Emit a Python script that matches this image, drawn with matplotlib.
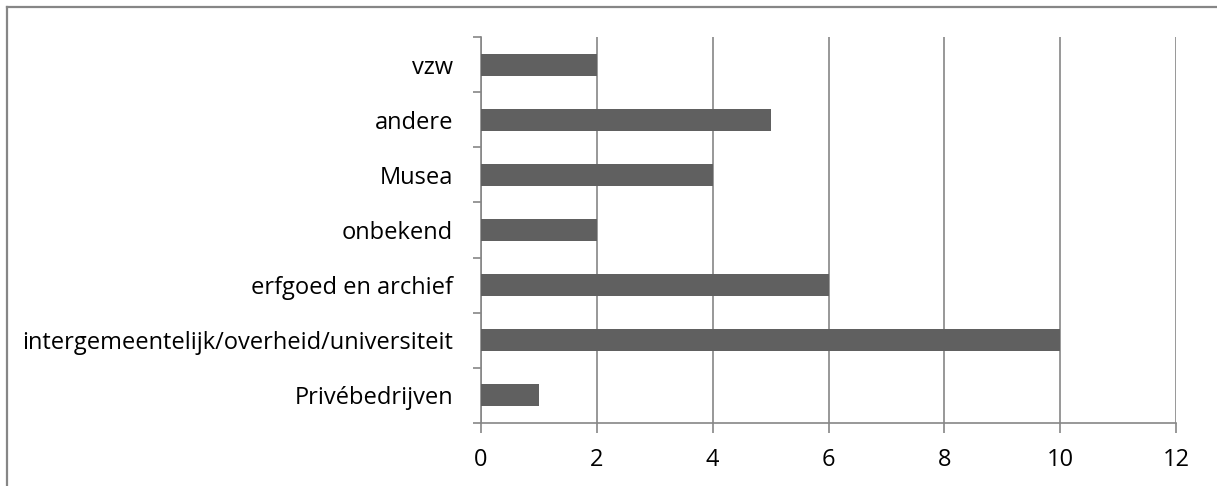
import numpy as np
import matplotlib.pyplot as plt
from matplotlib.lines import Line2D

# Categories listed bottom to top
categories = [
    "Privébedrijven",
    "intergemeentelijk/overheid/universiteit",
    "erfgoed en archief",
    "onbekend",
    "Musea",
    "andere",
    "vzw",
]
counts = [1, 10, 6, 2, 4, 5, 2]
xticks = [0, 2, 4, 6, 8, 10, 12]

plt.rcParams["font.family"] = ["Open Sans", "DejaVu Sans"]
grey = "#868686"

fig = plt.figure(figsize=(12.17, 4.86), dpi=100)
ax = fig.add_axes([481 / 1217, 1 - 423 / 486, (1176 - 481) / 1217, (423 - 37) / 486])

y = np.arange(len(categories))
ax.barh(y, counts, height=0.4, color="#606060", zorder=3)

ax.set_xlim(0, 12)
ax.set_ylim(-0.5, len(categories) - 0.5)
ax.set_xticks(xticks)
ax.set_xticklabels([str(t) for t in xticks], fontsize=17)
ax.set_yticks(y)
ax.set_yticklabels(categories, fontsize=17)
ax.set_yticks(np.arange(-0.5, len(categories)), minor=True)

ax.tick_params(axis="y", which="major", length=0, pad=20)
ax.tick_params(axis="y", which="minor", length=6, color=grey, width=1.2)
ax.tick_params(axis="x", length=7, color=grey, width=1.2, pad=11)

ax.grid(axis="x", color=grey, linewidth=1.2, zorder=0)
for side in ["top", "right"]:
    ax.spines[side].set_visible(False)
for side in ["left", "bottom"]:
    ax.spines[side].set_color(grey)
    ax.spines[side].set_linewidth(1.2)

# outer chart border (only top and left edges are inside the crop)
bx, by = 7 / 1217, 1 - 7.5 / 486
fig.lines.append(Line2D([bx, 1], [by, by], transform=fig.transFigure,
                        color=grey, linewidth=1.6))
fig.lines.append(Line2D([bx, bx], [0, by], transform=fig.transFigure,
                        color=grey, linewidth=1.6))

fig.savefig("out.png", dpi=100)
